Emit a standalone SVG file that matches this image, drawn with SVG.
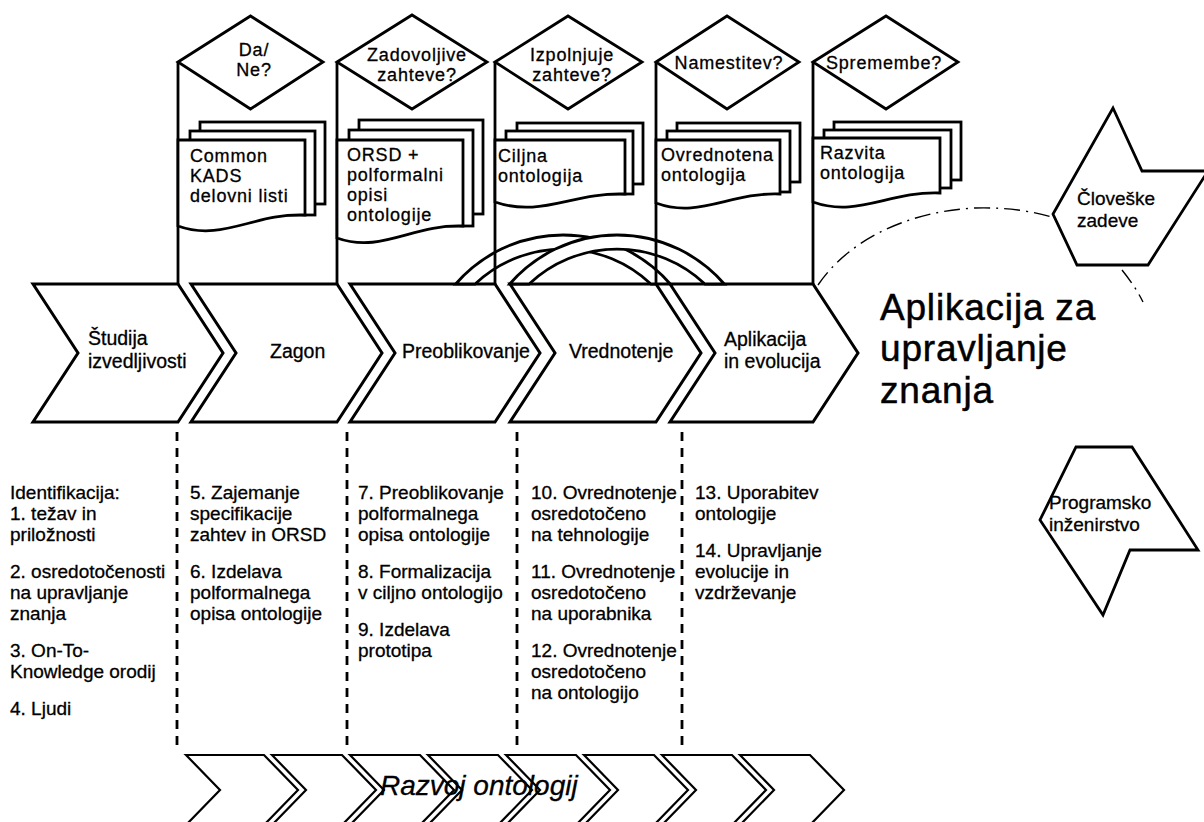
<svg xmlns="http://www.w3.org/2000/svg" width="1204" height="822" viewBox="0 0 1204 822">
<style>
  .t{font-family:"Liberation Sans",Arial,Helvetica,sans-serif;font-size:19.5px;fill:#000;stroke:#000;stroke-width:0.3px}
  .u{font-size:18px;letter-spacing:0.8px}
  .s{font-size:19px}
  .f{font-size:19px}
  .big{font-size:37px;letter-spacing:0.8px;stroke-width:0.5px}
  .it{font-style:italic;font-size:28px}
  .ln{fill:none;stroke:#000;stroke-width:2.8;stroke-linejoin:miter}
  .wf{fill:#fff;stroke:#000;stroke-width:2.8;stroke-linejoin:miter}
  .ch{fill:#fff;stroke:#000;stroke-width:3;stroke-linejoin:miter}
  .chb{fill:#fff;stroke:#000;stroke-width:2.2;stroke-linejoin:miter}
  .dash{fill:none;stroke:#000;stroke-width:2.8;stroke-dasharray:9 7}
  .dd{fill:none;stroke:#000;stroke-width:1.4;stroke-dasharray:16 6 2 6}
</style>
<rect width="1204" height="822" fill="#fff"/>

<!-- phase chevrons -->
<g id="phase-studija"><polygon class="ch" points="33,284 78,353 33,422 178,422 223,353 178,284"/>
  <text class="t" x="88" y="345">Študija</text><text class="t" x="88" y="368">izvedljivosti</text></g>
<g id="phase-zagon"><polygon class="ch" points="191,284 236,353 191,422 337,422 382,353 337,284"/>
  <text class="t" x="270" y="358">Zagon</text></g>
<g id="phase-preoblikovanje"><polygon class="ch" points="350,284 395,353 350,422 495,422 540,353 495,284"/>
  <text class="t" x="402" y="358">Preoblikovanje</text></g>
<g id="phase-vrednotenje"><polygon class="ch" points="510,284 555,353 510,422 656,422 701,353 656,284"/>
  <text class="t" x="569" y="358">Vrednotenje</text></g>
<g id="phase-aplikacija"><polygon class="ch" points="670,284 715,353 670,422 813,422 858,353 813,284"/>
  <text class="t" x="724" y="346">Aplikacija</text><text class="t" x="724" y="368">in evolucija</text></g>

<!-- connectors: column lines, feedback arches, dividers, outer ring -->
<g id="connectors">
  <path class="wf" d="M455.7,284 A142,142 0 0 1 670.3,284 L650.9,284 A128,128 0 0 0 475.1,284 Z"/>
  <path class="wf" d="M509.7,284 A142,142 0 0 1 724.3,284 L704.9,284 A128,128 0 0 0 529.1,284 Z"/>
  <path class="ln" d="M178,62 V284 M337,62 V284 M495,62 V284 M656,62 V284 M813,62 V284"/>
  <path class="dash" d="M177,432 V745 M347,432 V745 M517,432 V745 M682,432 V745"/>
  <path class="dd" d="M818,285 C845,245 900,212 975,208 C1010,207 1035,212 1055,218"/>
  <path class="dd" d="M1122,270 C1130,280 1137,290 1143,302"/>
</g>

<!-- decision diamonds -->
<g id="dec-1"><polygon class="wf" points="178,62 250.5,16 323,62 250.5,109"/>
  <text class="t u" x="254" y="56" text-anchor="middle">Da/</text><text class="t u" x="254" y="76" text-anchor="middle">Ne?</text></g>
<g id="dec-2"><polygon class="wf" points="337,62 412,15 487,62 412,109"/>
  <text class="t u" x="417" y="61" text-anchor="middle">Zadovoljive</text><text class="t u" x="417" y="81" text-anchor="middle">zahteve?</text></g>
<g id="dec-3"><polygon class="wf" points="495,62 568,16 642,62 568,109"/>
  <text class="t u" x="572" y="61" text-anchor="middle">Izpolnjuje</text><text class="t u" x="572" y="81" text-anchor="middle">zahteve?</text></g>
<g id="dec-4"><polygon class="wf" points="656,62 727,16 799,62 727,109"/>
  <text class="t u" x="729" y="69" text-anchor="middle">Namestitev?</text></g>
<g id="dec-5"><polygon class="wf" points="813,62 886,16 958,62 886,109"/>
  <text class="t u" x="884" y="69" text-anchor="middle">Spremembe?</text></g>

<!-- document stacks -->
<g id="doc-1">
  <rect class="wf" x="200" y="122" width="125" height="82"/>
  <rect class="wf" x="190" y="131" width="125" height="84"/>
  <path class="wf" d="M178,140 H305 V215 C254,213 222,242 178,226 Z"/>
  <text class="t u" x="190" y="162">Common</text><text class="t u" x="190" y="182">KADS</text><text class="t u" x="190" y="202">delovni listi</text>
</g>
<g id="doc-2">
  <rect class="wf" x="359" y="120" width="124" height="94"/>
  <rect class="wf" x="349" y="130" width="124" height="96"/>
  <path class="wf" d="M337,140 H463 V226 C413,224 381,254 337,238 Z"/>
  <text class="t u" x="347" y="161">ORSD +</text><text class="t u" x="347" y="181">polformalni</text><text class="t u" x="347" y="201">opisi</text><text class="t u" x="347" y="221">ontologije</text>
</g>
<g id="doc-3">
  <rect class="wf" x="517" y="123" width="126" height="61"/>
  <rect class="wf" x="506" y="131" width="127" height="63"/>
  <path class="wf" d="M495,140 H625 V194 C573,192 541,218 495,202 Z"/>
  <text class="t u" x="498" y="162">Ciljna</text><text class="t u" x="498" y="182">ontologija</text>
</g>
<g id="doc-4">
  <rect class="wf" x="677" y="123" width="123" height="59"/>
  <rect class="wf" x="667" y="131" width="123" height="61"/>
  <path class="wf" d="M656,140 H780 V194 C730,192 699,219 656,203 Z"/>
  <text class="t u" x="661" y="161">Ovrednotena</text><text class="t u" x="661" y="181">ontologija</text>
</g>
<g id="doc-5">
  <rect class="wf" x="834" y="122" width="127" height="58"/>
  <rect class="wf" x="824" y="130" width="127" height="58"/>
  <path class="wf" d="M813,138 H940 V193 C889,191 857,218 813,202 Z"/>
  <text class="t u" x="820" y="159">Razvita</text><text class="t u" x="820" y="179">ontologija</text>
</g>

<!-- application label -->
<g id="km-app">
  <text class="t big" x="880" y="320">Aplikacija za</text>
  <text class="t big" x="880" y="361">upravljanje</text>
  <text class="t big" x="880" y="403">znanja</text>
</g>

<!-- side factors -->
<g id="human">
  <polygon class="wf" points="1113,108 1142,171 1208,171 1148,265 1077,265 1053,214"/>
  <text class="t f" x="1077" y="205">Človeške</text><text class="t f" x="1077" y="227">zadeve</text>
</g>
<g id="software">
  <polygon class="wf" points="1076,447 1132,447 1198,550 1130,550 1103,615 1040,520"/>
  <text class="t f" x="1049" y="509">Programsko</text><text class="t f" x="1049" y="531">inženirstvo</text>
</g>

<!-- activity lists -->
<g id="steps-1" class="t s">
  <text x="10" y="499">Identifikacija:</text><text x="10" y="520">1. težav in</text><text x="10" y="541">priložnosti</text>
  <text x="10" y="578">2. osredotočenosti</text><text x="10" y="599">na upravljanje</text><text x="10" y="620">znanja</text>
  <text x="10" y="657">3. On-To-</text><text x="10" y="678">Knowledge orodij</text>
  <text x="10" y="715">4. Ljudi</text>
</g>
<g id="steps-2" class="t s">
  <text x="190" y="499">5. Zajemanje</text><text x="190" y="520">specifikacije</text><text x="190" y="541">zahtev in ORSD</text>
  <text x="190" y="578">6. Izdelava</text><text x="190" y="599">polformalnega</text><text x="190" y="620">opisa ontologije</text>
</g>
<g id="steps-3" class="t s">
  <text x="358" y="499">7. Preoblikovanje</text><text x="358" y="520">polformalnega</text><text x="358" y="541">opisa ontologije</text>
  <text x="358" y="578">8. Formalizacija</text><text x="358" y="599">v ciljno ontologijo</text>
  <text x="358" y="636">9. Izdelava</text><text x="358" y="657">prototipa</text>
</g>
<g id="steps-4" class="t s">
  <text x="531" y="499">10. Ovrednotenje</text><text x="531" y="520">osredotočeno</text><text x="531" y="541">na tehnologije</text>
  <text x="531" y="578">11. Ovrednotenje</text><text x="531" y="599">osredotočeno</text><text x="531" y="620">na uporabnika</text>
  <text x="531" y="657">12. Ovrednotenje</text><text x="531" y="678">osredotočeno</text><text x="531" y="699">na ontologijo</text>
</g>
<g id="steps-5" class="t s">
  <text x="695" y="499">13. Uporabitev</text><text x="695" y="520">ontologije</text>
  <text x="695" y="557">14. Upravljanje</text><text x="695" y="578">evolucije in</text><text x="695" y="599">vzdrževanje</text>
</g>

<!-- ontology development strip -->
<g id="dev-strip">
  <polygon class="chb" points="186,755 220,790 186,825 264,825 298,790 264,755"/>
  <polygon class="chb" points="272,755 306,790 272,825 342,825 376,790 342,755"/>
  <polygon class="chb" points="350,755 384,790 350,825 420,825 454,790 420,755"/>
  <polygon class="chb" points="428,755 462,790 428,825 498,825 532,790 498,755"/>
  <polygon class="chb" points="506,755 540,790 506,825 576,825 610,790 576,755"/>
  <polygon class="chb" points="584,755 618,790 584,825 654,825 688,790 654,755"/>
  <polygon class="chb" points="662,755 696,790 662,825 732,825 766,790 732,755"/>
  <polygon class="chb" points="740,755 774,790 740,825 810,825 844,790 810,755"/>
  <text class="t it" x="380" y="795">Razvoj ontologij</text>
</g>
</svg>
